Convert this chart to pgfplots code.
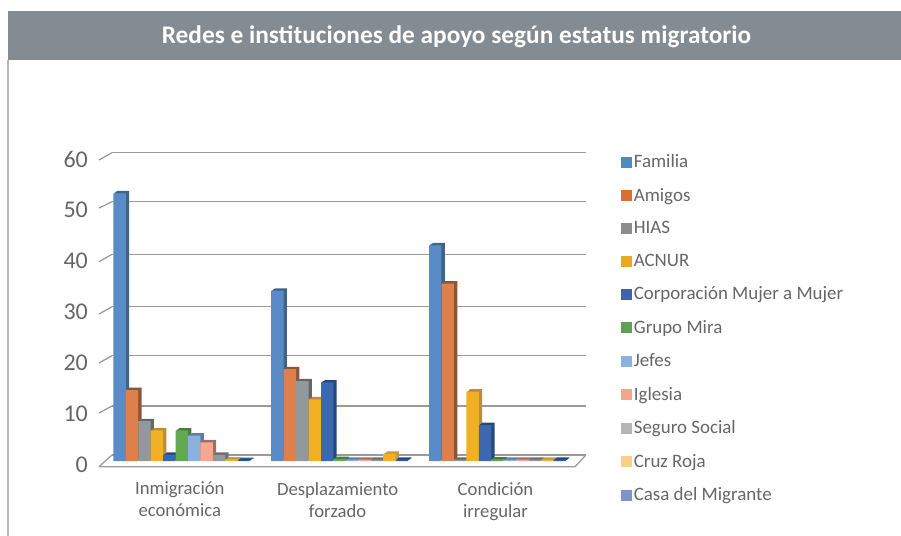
\documentclass[border=0pt]{standalone}
\usepackage{fontspec}
\setmainfont{Carlito}
\usepackage{pgfplots}
\usepackage{pgfplotstable}
\pgfplotsset{compat=1.18}
\definecolor{txt}{HTML}{666666}
\definecolor{gridc}{HTML}{9A9A9A}
\definecolor{band}{HTML}{828C92}
\definecolor{fa}{HTML}{5B8BC6}\definecolor{da}{HTML}{3F6487}\definecolor{la}{HTML}{4A8AC6}
\definecolor{fb}{HTML}{DF7F4C}\definecolor{db}{HTML}{8A5636}\definecolor{lb}{HTML}{DB6E35}
\definecolor{fc}{HTML}{93989B}\definecolor{dc}{HTML}{62676B}\definecolor{lc}{HTML}{8B8D90}
\definecolor{fd}{HTML}{F2B124}\definecolor{dd}{HTML}{BB8C3E}\definecolor{ld}{HTML}{E9A921}
\definecolor{fe}{HTML}{3D68B0}\definecolor{de}{HTML}{234A80}\definecolor{le}{HTML}{3F64AD}
\definecolor{ff}{HTML}{62A852}\definecolor{df}{HTML}{497B3E}\definecolor{lf}{HTML}{5FA053}
\definecolor{fg}{HTML}{8AB0DD}\definecolor{dg}{HTML}{5F7DA8}\definecolor{lg}{HTML}{8EB2DF}
\definecolor{fh}{HTML}{F6A78E}\definecolor{dh}{HTML}{A0705F}\definecolor{lh}{HTML}{F5A48D}
\definecolor{fi}{HTML}{93989B}\definecolor{di}{HTML}{6C6F72}\definecolor{li}{HTML}{B3B5B8}
\definecolor{fj}{HTML}{F2B124}\definecolor{dj}{HTML}{C49A4A}\definecolor{lj}{HTML}{FCCF85}
\definecolor{fk}{HTML}{2E5FA8}\definecolor{dk}{HTML}{20487F}\definecolor{lk}{HTML}{7F93CB}
\pgfplotstableread{
idx s1 s2 s3 s4 s5 s6 s7 s8 s9 s10 s11
0 52.5 13.9 7.8 6.0 1.2 6.0 5.0 3.65 1.2 0.3 0.2
1 33.4 18.0 15.65 12.1 15.4 0.4 0.25 0.25 0.25 1.4 0.25
2 42.3 34.8 0.25 13.6 7.05 0.3 0.25 0.25 0.25 0.25 0.25
}\datatable
% series: column, position (-5..5), front colour, dark colour
\newcommand{\barser}[4]{%
  \pgfplotsinvokeforeach{1,2,3}{%
    \addplot[ybar,forget plot,bar width=9.3pt,bar shift={(#2)*9.33pt},fill=#4,draw=none,
      xshift=##1*0.83pt,yshift=##1*0.6pt] table[x=idx,y=#1]{\datatable};
  }%
  \addplot[ybar,forget plot,bar width=9.3pt,bar shift={(#2)*9.33pt},fill=#3,draw=none] table[x=idx,y=#1]{\datatable};
}
\newcommand{\gline}[1]{\addplot[forget plot,gridc,line width=.95pt] coordinates {#1};}
\begin{document}
\begin{tikzpicture}[x=0.75pt,y=0.75pt]
\path[use as bounding box] (-99,466.7-536) rectangle (901-99,466.7);
\fill[band] (8-99,466.7-60) rectangle (901-99,466.7-11);
\draw[color=black!27,line width=1.1pt] (8-99,466.7-60) -- (8-99,466.7-536);
\node[text=white,font=\fontsize{19}{22}\selectfont\bfseries,anchor=center] at (456.5-99,466.7-36.5) {Redes e instituciones de apoyo según estatus migratorio};
\begin{axis}[
  at={(0,0)},anchor=south west,scale only axis,
  width=365.25pt,height=237.5pt,
  xmin=-0.52455,xmax=2.5607,ymin=-1.1176,ymax=60.98,
  axis line style={draw=none},major tick length=0pt,
  clip=false,
  xtick={0,1,2},
  xticklabels={Inmigración\\económica,Desplazamiento\\forzado,Condición\\irregular},
  xticklabel style={align=center,font=\fontsize{14}{16.5}\selectfont,text=txt,xshift=-1.5pt,yshift=-8pt},
  ytick={0,10,...,60},
  /pgf/number format/assume math mode=true,
  yticklabel style={font=\fontsize{18}{20}\selectfont,text=txt,yshift=-3pt,xshift=-4.8pt},
  legend style={at={(1.0723,0.9907)},anchor=north west,draw=none,fill=none,
    font=\fontsize{14.2}{15}\selectfont,text=txt,row sep=11.8pt,
    legend cell align=left,inner sep=0pt,
    /tikz/column 2/.style={column sep=1.6pt},
    nodes={inner sep=1pt}},
  legend image code/.code={\fill[#1] (0pt,-4.1pt) rectangle (8.25pt,4.1pt);},
]
\addlegendimage{fill=la,draw=none}\addlegendentry{Familia}
\addlegendimage{fill=lb,draw=none}\addlegendentry{Amigos}
\addlegendimage{fill=lc,draw=none}\addlegendentry{HIAS}
\addlegendimage{fill=ld,draw=none}\addlegendentry{ACNUR}
\addlegendimage{fill=le,draw=none}\addlegendentry{Corporación Mujer a Mujer}
\addlegendimage{fill=lf,draw=none}\addlegendentry{Grupo Mira}
\addlegendimage{fill=lg,draw=none}\addlegendentry{Jefes}
\addlegendimage{fill=lh,draw=none}\addlegendentry{Iglesia}
\addlegendimage{fill=li,draw=none}\addlegendentry{Seguro Social}
\addlegendimage{fill=lj,draw=none}\addlegendentry{Cruz Roja}
\addlegendimage{fill=lk,draw=none}\addlegendentry{Casa del Migrante}
% walls
\gline{(-0.4422,60.45)(2.5607,60.45)}
\gline{(-0.4422,50.84)(2.5607,50.84)}
\gline{(-0.4422,40.53)(2.5607,40.53)}
\gline{(-0.4422,30.25)(2.5607,30.25)}
\gline{(-0.4422,20.65)(2.5607,20.65)}
\gline{(-0.4422,10.78)(2.5607,10.78)}
\gline{(-0.4422,1.18)(2.5607,1.18)}
\gline{(-0.5245,59.02)(-0.4422,60.45)}
\gline{(-0.5245,49.61)(-0.4422,50.84)}
\gline{(-0.5245,39.08)(-0.4422,40.53)}
\gline{(-0.5245,28.82)(-0.4422,30.25)}
\gline{(-0.5245,19.22)(-0.4422,20.65)}
\gline{(-0.5245,9.41)(-0.4422,10.78)}
\gline{(-0.5245,-1.12)(-0.4422,1.18)}
\gline{(-0.5245,-1.12)(2.491,-1.12)(2.5607,1.18)}
\barser{s1}{-5}{fa}{da}
\barser{s2}{-4}{fb}{db}
\barser{s3}{-3}{fc}{dc}
\barser{s4}{-2}{fd}{dd}
\barser{s5}{-1}{fe}{de}
\barser{s6}{0}{ff}{df}
\barser{s7}{1}{fg}{dg}
\barser{s8}{2}{fh}{dh}
\barser{s9}{3}{fi}{di}
\barser{s10}{4}{fj}{dj}
\barser{s11}{5}{fk}{dk}
\end{axis}
\end{tikzpicture}
\end{document}
